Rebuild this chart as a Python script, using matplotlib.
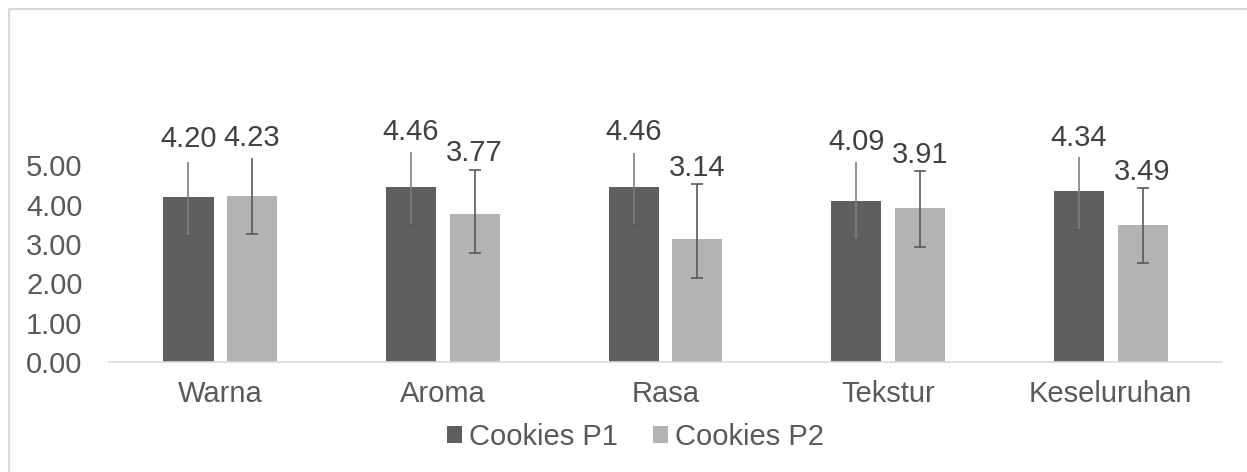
import numpy as np
import matplotlib.pyplot as plt
from matplotlib.lines import Line2D

plt.rcParams['font.family'] = ['Liberation Sans', 'DejaVu Sans']

#%% data
categories = ['Warna', 'Aroma', 'Rasa', 'Tekstur', 'Keseluruhan']
series = ['Cookies P1', 'Cookies P2']
p1 = np.array([4.20, 4.46, 4.46, 4.09, 4.34])
p2 = np.array([4.23, 3.77, 3.14, 3.91, 3.49])
# error bars (lower / upper part that is visible)
p1_lo = np.array([0.99, 0.98, 0.98, 0.99, 0.98])
p1_hi = np.array([0.89, 0.87, 0.84, 1.00, 0.86])
p2_lo = np.array([0.98, 0.99, 0.99, 0.98, 0.98])
p2_hi = np.array([0.96, 1.11, 1.38, 0.95, 0.94])
p2_topcap = np.array([False, True, True, True, True])
# where the moved data labels sit (value units)
p1_lab_y = np.array([5.67, 5.85, 5.85, 5.59, 5.69])
p2_lab_y = np.array([5.69, 5.30, 4.94, 5.26, 4.82])

c1, c2 = '#5f5f5f', '#b3b3b3'
txt = '#595959'
ecol = '#595959'
fs = 21

fig = plt.figure(figsize=(12.47, 4.72), dpi=100)
ax = fig.add_axes([0.0874, 0.2324, 0.8926, 0.5009])

x = np.arange(len(categories))
w = 0.225
off = 0.143
ax.bar(x - off, p1, w, color=c1, label=series[0], zorder=2)
ax.bar(x + off, p2, w, color=c2, label=series[1], zorder=2)

# error bar lines
ax.vlines(x - off, p1 - p1_lo, p1 + p1_hi, color='#7f7f7f', lw=1.2, zorder=3)
ax.vlines(x + off, p2 - p2_lo, p2 + p2_hi, color=ecol, lw=1.2, zorder=3)
# caps
ax.plot(x - off, p1 - p1_lo, ls='none', marker='_', ms=8.6, mew=1.2, color=ecol, zorder=3)
ax.plot(x + off, p2 - p2_lo, ls='none', marker='_', ms=8.6, mew=1.2, color=ecol, zorder=3)
ax.plot((x + off)[p2_topcap], (p2 + p2_hi)[p2_topcap], ls='none', marker='_',
        ms=8.6, mew=1.2, color=ecol, zorder=3)

# data labels
for xi, v, ly in zip(x - off, p1, p1_lab_y):
    ax.text(xi, ly, f'{v:.2f}', ha='center', va='center', fontsize=fs,
            color='#404040', clip_on=False, zorder=4)
for xi, v, ly in zip(x + off, p2, p2_lab_y):
    ax.text(xi, ly, f'{v:.2f}', ha='center', va='center', fontsize=fs,
            color='#404040', clip_on=False, zorder=4)

ax.set_xlim(-0.5, len(categories) - 0.5)
ax.set_ylim(0, 6.0)
ax.set_yticks(np.arange(0, 6, 1))
ax.set_yticklabels([f'{t:.2f}' for t in np.arange(0, 6, 1)])
ax.set_xticks(x)
ax.set_xticklabels(categories)
ax.tick_params(axis='y', length=0, pad=19, labelsize=fs, labelcolor=txt)
ax.tick_params(axis='x', length=0, pad=13, labelsize=fs, labelcolor=txt)
for s in ['top', 'right', 'left']:
    ax.spines[s].set_visible(False)
ax.spines['bottom'].set_color('#d9d9d9')
ax.spines['bottom'].set_linewidth(1.2)

leg = fig.legend(loc='center', bbox_to_anchor=(0.5096, 0.0748), ncol=2,
                 frameon=False, fontsize=fs, handlelength=0.52,
                 handleheight=0.52, handletextpad=0.25, columnspacing=1.2)
for t in leg.get_texts():
    t.set_color(txt)

# chart border (top and left visible)
fig.add_artist(Line2D([8.5 / 1247, 8.5 / 1247, 1.0], [0.0, 1 - 8.5 / 472, 1 - 8.5 / 472],
                      transform=fig.transFigure, color='#d9d9d9', lw=1.5))

fig.savefig('out.png', dpi=100)
